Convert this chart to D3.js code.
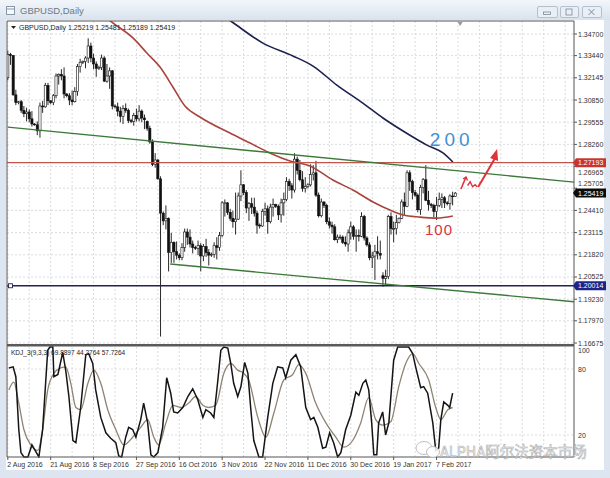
<!DOCTYPE html>
<html>
<head>
<meta charset="utf-8">
<script src="https://cdn.jsdelivr.net/npm/d3@7"></script>
<style>
  body { margin: 0; background: #dde6f0; }
  svg { display: block; font-family: "Liberation Sans", Arial, sans-serif; }
</style>
</head>
<body>
<svg id="chart" width="610" height="478"></svg>
<script>
// GBPUSD daily bars, 2 Aug 2016 .. 15 Feb 2017 (Sun-Fri sessions)
const opens = [
  1.3215,1.3350,1.3345,1.3115,1.3070,1.3075,1.3025,1.3005,1.3015,1.2975,
  1.2945,1.2940,1.2905,1.3050,1.3045,1.3170,1.3080,1.3070,1.3110,1.3225,
  1.3235,1.3225,1.3120,1.3110,1.3085,1.3075,1.3135,1.3280,1.3305,1.3310,
  1.3330,1.3400,1.3330,1.3295,1.3270,1.3275,1.3330,1.3195,1.3225,1.3255,
  1.3050,1.3045,1.3020,1.2990,1.3035,1.3025,1.2965,1.2960,1.2995,1.2975,
  1.3020,1.2980,1.2960,1.2920,1.2840,1.2710,1.2735,1.2625,1.2425,1.2380,
  1.2395,1.2195,1.2255,1.2200,1.2180,1.2165,1.2225,1.2315,1.2285,1.2245,
  1.2225,1.2220,1.2235,1.2175,1.2230,1.2195,1.2180,1.2185,1.2235,1.2225,
  1.2295,1.2485,1.2485,1.2430,1.2395,1.2375,1.2390,1.2525,1.2590,1.2545,
  1.2455,1.2480,1.2460,1.2425,1.2355,1.2350,1.2435,1.2450,1.2375,1.2460,
  1.2475,1.2465,1.2415,1.2485,1.2505,1.2610,1.2585,1.2560,1.2740,1.2675,
  1.2620,1.2570,1.2580,1.2590,1.2650,1.2660,1.2530,1.2410,1.2490,1.2470,
  1.2375,1.2355,1.2345,1.2270,1.2285,1.2285,1.2255,1.2245,1.2310,1.2345,
  1.2290,1.2295,1.2290,1.2405,1.2280,1.2240,1.2165,1.2175,1.2200,1.2190,
  1.2060,1.2045,1.2055,1.2405,1.2335,1.2335,1.2370,1.2395,1.2490,1.2465,
  1.2660,1.2610,1.2545,1.2530,1.2445,1.2575,1.2620,1.2500,1.2475,1.2470,
  1.2435,1.2470,1.2505,1.2515,1.2485,1.2480,1.2525,1.25219
];
const highs = [
  1.3372,1.3360,1.3345,1.3145,1.3080,1.3085,1.3050,1.3040,1.3030,1.3020,
  1.2950,1.2960,1.3070,1.3080,1.3185,1.3185,1.3085,1.3120,1.3240,1.3240,
  1.3265,1.3275,1.3125,1.3125,1.3140,1.3160,1.3295,1.3325,1.3315,1.3340,
  1.3445,1.3420,1.3355,1.3310,1.3285,1.3350,1.3340,1.3295,1.3275,1.3260,
  1.3060,1.3070,1.3045,1.3055,1.3065,1.3035,1.2975,1.3010,1.3035,1.3055,
  1.3030,1.3000,1.2965,1.2935,1.2855,1.2775,1.2740,1.2640,1.2435,1.2470,
  1.2400,1.2310,1.2260,1.2260,1.2190,1.2250,1.2335,1.2335,1.2330,1.2265,
  1.2235,1.2265,1.2250,1.2245,1.2275,1.2215,1.2195,1.2255,1.2285,1.2315,
  1.2495,1.2505,1.2490,1.2450,1.2440,1.2545,1.2545,1.2675,1.2595,1.2560,
  1.2490,1.2515,1.2515,1.2440,1.2365,1.2450,1.2485,1.2470,1.2480,1.2510,
  1.2480,1.2475,1.2510,1.2545,1.2635,1.2625,1.2600,1.2775,1.2755,1.2735,
  1.2670,1.2635,1.2600,1.2710,1.2705,1.2730,1.2545,1.2510,1.2495,1.2480,
  1.2400,1.2375,1.2360,1.2300,1.2300,1.2295,1.2290,1.2330,1.2375,1.2355,
  1.2330,1.2330,1.2430,1.2415,1.2290,1.2255,1.2200,1.2240,1.2290,1.2265,
  1.2080,1.2095,1.2415,1.2430,1.2375,1.2415,1.2400,1.2505,1.2545,1.2675,
  1.2675,1.2620,1.2560,1.2540,1.2590,1.2630,1.2705,1.2555,1.2485,1.2480,
  1.2520,1.2545,1.2540,1.2525,1.2495,1.2535,1.2550,1.25481
];
const lows = [
  1.3200,1.3290,1.3110,1.3055,1.3060,1.3010,1.2985,1.2960,1.2955,1.2930,
  1.2935,1.2880,1.2865,1.3010,1.3040,1.3055,1.3060,1.3055,1.3095,1.3175,
  1.3200,1.3095,1.3100,1.3055,1.3055,1.3070,1.3110,1.3245,1.3295,1.3270,
  1.3300,1.3305,1.3265,1.3220,1.3260,1.3260,1.3190,1.3185,1.3150,1.3030,
  1.3035,1.2990,1.2955,1.2945,1.3010,1.2950,1.2950,1.2935,1.2960,1.2960,
  1.2955,1.2915,1.2905,1.2830,1.2700,1.2690,1.2620,1.1705,1.2355,1.2330,
  1.2085,1.2135,1.2135,1.2155,1.2150,1.2150,1.2200,1.2240,1.2225,1.2190,
  1.2210,1.2180,1.2085,1.2145,1.2170,1.2120,1.2170,1.2165,1.2155,1.2205,
  1.2285,1.2405,1.2415,1.2380,1.2340,1.2300,1.2385,1.2495,1.2530,1.2425,
  1.2380,1.2420,1.2405,1.2305,1.2335,1.2345,1.2410,1.2305,1.2365,1.2405,
  1.2455,1.2385,1.2370,1.2410,1.2495,1.2555,1.2510,1.2545,1.2650,1.2610,
  1.2550,1.2545,1.2570,1.2580,1.2615,1.2520,1.2400,1.2400,1.2455,1.2360,
  1.2335,1.2305,1.2265,1.2250,1.2270,1.2245,1.2230,1.2200,1.2270,1.2270,
  1.2200,1.2260,1.2285,1.2265,1.2230,1.2150,1.2105,1.2035,1.2155,1.2155,
  1.1995,1.2000,1.2040,1.2300,1.2255,1.2300,1.2365,1.2390,1.2415,1.2460,
  1.2555,1.2505,1.2520,1.2430,1.2415,1.2540,1.2495,1.2440,1.2455,1.2400,
  1.2385,1.2460,1.2455,1.2455,1.2470,1.2445,1.2470,1.25189
];
const closes = [
  1.3350,1.3345,1.3115,1.3070,1.3075,1.3025,1.3005,1.3015,1.2975,1.2945,
  1.2940,1.2905,1.3050,1.3045,1.3170,1.3080,1.3070,1.3110,1.3225,1.3235,
  1.3225,1.3120,1.3110,1.3085,1.3075,1.3135,1.3280,1.3305,1.3310,1.3330,
  1.3400,1.3330,1.3295,1.3270,1.3275,1.3330,1.3195,1.3225,1.3255,1.3050,
  1.3045,1.3020,1.2990,1.3035,1.3025,1.2965,1.2960,1.2995,1.2975,1.3020,
  1.2980,1.2970,1.2920,1.2840,1.2710,1.2735,1.2625,1.2425,1.2380,1.2395,
  1.2195,1.2255,1.2200,1.2180,1.2165,1.2225,1.2315,1.2285,1.2245,1.2225,
  1.2220,1.2235,1.2175,1.2230,1.2195,1.2180,1.2185,1.2235,1.2225,1.2295,
  1.2485,1.2485,1.2430,1.2395,1.2375,1.2390,1.2525,1.2590,1.2545,1.2455,
  1.2480,1.2460,1.2425,1.2355,1.2350,1.2435,1.2450,1.2375,1.2460,1.2475,
  1.2465,1.2415,1.2485,1.2505,1.2610,1.2585,1.2560,1.2740,1.2675,1.2620,
  1.2570,1.2580,1.2590,1.2650,1.2660,1.2530,1.2410,1.2490,1.2470,1.2375,
  1.2355,1.2345,1.2270,1.2285,1.2285,1.2255,1.2245,1.2310,1.2345,1.2290,
  1.2295,1.2290,1.2405,1.2280,1.2240,1.2165,1.2175,1.2200,1.2190,1.2180,
  1.2045,1.2055,1.2405,1.2335,1.2335,1.2370,1.2395,1.2490,1.2465,1.2660,
  1.2610,1.2545,1.2530,1.2445,1.2575,1.2620,1.2500,1.2475,1.2470,1.2435,
  1.2470,1.2505,1.2515,1.2485,1.2480,1.2525,1.2522,1.25419
];

// moving averages as [bar, price]
const ma100 = [
  [34.4,1.3593],[39.3,1.3534],[46.7,1.3447],[51.9,1.3359],[56.8,1.3277],
  [61.6,1.3161],[66.1,1.3050],[71.7,1.2986],[82.9,1.2892],[90.4,1.2834],
  [97.8,1.2776],[105.3,1.2729],[112.8,1.2700],[121.3,1.2618],[128.8,1.2560],
  [136.3,1.2490],[142.6,1.2443],[147.5,1.2414],[153.8,1.2402],[160.1,1.2396],
  [166.1,1.2408]
];
const ma200 = [
  [77.3,1.3610],[83.7,1.3540],[95.2,1.3417],[106.4,1.3342],[113.9,1.3283],
  [122.8,1.3172],[132.5,1.3067],[140.0,1.2980],[147.5,1.2904],[156.4,1.2822],
  [162.4,1.2776],[166.1,1.2723]
];

// drawn objects
const upperTrend = [[0, 1.2927], [160, 1.2684]];
const lowerTrend = [[60.6, 1.2128], [160, 1.1983]];
const resistance = 1.27193;
const support = 1.20014;
const lastPrice = 1.25419;

// KDJ sub-window, [bar, value]
const kdjFast = [
  [0.4,81],[2,82],[3,73],[4.1,25],[4.9,4],[6,0],[7.5,0],[9,11],[9.7,8],[11.6,0],
  [13,25],[14.9,97],[15.7,100],[16.8,100],[17.2,73],[18.7,75],[20.5,95],[21.6,79],
  [22.8,55],[24.3,15],[25.4,13],[27.2,45],[29.1,93],[30.2,94],[31.7,85],[32.8,61],
  [34.7,36],[36.6,22],[38.4,17],[40.3,13],[41.4,1],[42.5,0],[44,18],[45.1,27],
  [46.6,25],[47.8,18],[49.6,34],[50.7,49],[52.2,31],[53.4,2],[54.5,0],[56,4],
  [57.8,27],[59.3,72],[60.8,58],[61.9,41],[63.4,40],[65.3,45],[67.2,55],[69,62],
  [70.9,52],[72.8,36],[73.9,43],[75.7,40],[76.9,36],[78.4,70],[79.5,97],[80.6,100],
  [82.1,99],[83.2,85],[84.3,67],[85.8,55],[87,64],[88.4,86],[89.6,76],[90.7,43],
  [91.8,15],[93.7,0],[95.1,0],[97,36],[98.9,67],[100.7,82],[102.6,81],[103.7,72],
  [105.6,88],[107.5,93],[109.3,82],[111.2,45],[113,34],[114.2,36],[115.7,27],
  [117.5,8],[118.7,9],[120.1,22],[121.6,13],[123.1,0],[124.3,4],[126.1,25],
  [128,38],[129.9,59],[131,56],[132.5,67],[133.6,70],[134.7,61],[135.8,31],
  [136.6,2],[137.7,2],[138.4,31],[139.9,41],[141,20],[142.2,31],[144,88],
  [145.5,100],[149.6,100],[151.1,94],[152.2,82],[154.1,63],[155.2,64],[156.7,58],
  [158.6,31],[159.7,6],[160.8,8],[161.6,34],[162.7,50],[164.2,47],[164.9,45],[166,58]
];
const kdjSlow = [
  [0.4,61],[2.2,68],[4.1,49],[6,25],[8.6,11],[11.2,6],[13,25],[14.9,61],[17.2,76],
  [19.8,81],[21.6,82],[23.5,67],[25.4,45],[27.2,43],[29.9,67],[32.1,79],[34.7,67],
  [37.3,43],[40.3,25],[43.3,11],[46.6,18],[49.6,27],[52.2,34],[54.5,18],[56.3,11],
  [59,31],[61.6,47],[64.6,45],[67.5,49],[70.1,55],[72.8,47],[75,45],[77.6,47],
  [80.6,76],[83.2,85],[85.8,79],[88.1,76],[89.9,70],[93.3,36],[96.3,18],[99.3,40],
  [103,70],[106.3,75],[108.6,84],[111.2,76],[114.9,49],[118.7,31],[122.4,18],
  [125.4,9],[128.7,15],[131.7,31],[134.7,54],[137.3,34],[139.9,29],[142.9,32],
  [145.9,64],[148.5,85],[151.1,94],[153.4,85],[157.1,70],[159.7,45],[161.6,34],
  [164.2,43],[166,45]
];

const priceTicks = ["1.34700","1.33440","1.32145","1.30850","1.29555","1.28260","1.26965",
  "1.25705","1.24410","1.23115","1.21820","1.20525","1.19230","1.17970","1.16675"];
const kdjTicks = [100, 80, 20];
const dateLabels = ["2 Aug 2016","21 Aug 2016","8 Sep 2016","27 Sep 2016","16 Oct 2016",
  "3 Nov 2016","22 Nov 2016","11 Dec 2016","30 Dec 2016","19 Jan 2017","7 Feb 2017"];

const W = 610, H = 478;
const left = 7, right = 574;
const mainTop = 21, mainBottom = 344, kdjTop = 347, kdjBottom = 457;
const barsPerLabel = 16, barsPerGrid = 8;

const svg = d3.select('#chart');
const defs = svg.append('defs');

const x = d3.scaleLinear().domain([-0.3, 211.3]).range([left, right]);
const y = d3.scaleLinear().domain([1.16675, 1.34700]).range([343, 34]);
const yk = d3.scaleLinear().domain([0, 100]).range([kdjBottom, kdjTop]);

// window frame
const tb = defs.append('linearGradient').attr('id', 'tb')
  .attr('x1', 0).attr('y1', 0).attr('x2', 0).attr('y2', 1);
tb.append('stop').attr('offset', 0).attr('stop-color', '#f2f6fa');
tb.append('stop').attr('offset', 1).attr('stop-color', '#d9e3ee');
svg.append('rect').attr('width', W).attr('height', H).attr('fill', '#dde6f0');
svg.append('rect').attr('width', W).attr('height', 20).attr('fill', 'url(#tb)');
svg.append('rect').attr('x', 6).attr('y', 20).attr('width', 598).attr('height', 450)
  .attr('fill', '#fff');

// title bar
svg.append('rect').attr('x', 6.5).attr('y', 6.5).attr('width', 8).attr('height', 8)
  .attr('fill', '#f8fafc').attr('stroke', '#8a99aa');
svg.append('line').attr('x1', 7).attr('x2', 14).attr('y1', 9).attr('y2', 9)
  .attr('stroke', '#8a99aa');
svg.append('text').attr('x', 20).attr('y', 14).attr('font-size', 9.5)
  .attr('fill', '#6d7886').text('GBPUSD,Daily');
[[537, 557], [560, 578], [582, 601]].forEach(([a, b], k) => {
  svg.append('rect').attr('x', a + 0.5).attr('y', 6.5).attr('width', b - a).attr('height', 11)
    .attr('rx', 1.5).attr('fill', '#e9eff5').attr('stroke', '#b3c0ce');
  const cx = (a + b) / 2;
  if (k === 0) {
    svg.append('rect').attr('x', cx - 3.5).attr('y', 12).attr('width', 7).attr('height', 2.5)
      .attr('fill', 'none').attr('stroke', '#7d8a98').attr('stroke-width', 0.8);
  } else if (k === 1) {
    svg.append('rect').attr('x', cx - 3).attr('y', 9).attr('width', 6).attr('height', 6)
      .attr('fill', 'none').attr('stroke', '#7d8a98').attr('stroke-width', 0.8);
  } else {
    svg.append('path').attr('d', `M${cx - 3},9 L${cx + 3},15 M${cx + 3},9 L${cx - 3},15`)
      .attr('stroke', '#7d8a98').attr('stroke-width', 1);
  }
});

// clips
defs.append('clipPath').attr('id', 'clipMain').append('rect')
  .attr('x', left).attr('y', mainTop).attr('width', right - left).attr('height', mainBottom - mainTop);
defs.append('clipPath').attr('id', 'clipKdj').append('rect')
  .attr('x', left).attr('y', kdjTop - 1).attr('width', right - left).attr('height', kdjBottom - kdjTop + 2);

// grid
const gridIdx = d3.range(0, x.domain()[1], barsPerGrid);
const grid = svg.append('g').attr('stroke', '#cfd3d6').attr('stroke-dasharray', '2,2')
  .attr('stroke-width', 0.8);
grid.selectAll('.gv').data(gridIdx).join('line')
  .attr('x1', d => x(d)).attr('x2', d => x(d)).attr('y1', mainTop).attr('y2', mainBottom);
grid.selectAll('.gk').data(gridIdx).join('line')
  .attr('x1', d => x(d)).attr('x2', d => x(d)).attr('y1', kdjTop).attr('y2', kdjBottom);
grid.selectAll('.gh').data(priceTicks).join('line')
  .attr('x1', left).attr('x2', right).attr('y1', d => y(+d)).attr('y2', d => y(+d));
grid.selectAll('.gkh').data([80, 20]).join('line')
  .attr('x1', left).attr('x2', right).attr('y1', d => yk(d)).attr('y2', d => yk(d));

// candles
const bars = closes.map((c, i) => ({ i, o: opens[i], h: highs[i], l: lows[i], c }));
const main = svg.append('g').attr('clip-path', 'url(#clipMain)');
const candle = main.append('g').selectAll('g').data(bars).join('g');
candle.append('line')
  .attr('x1', d => x(d.i)).attr('x2', d => x(d.i))
  .attr('y1', d => y(d.h)).attr('y2', d => y(d.l))
  .attr('stroke', '#111').attr('stroke-width', 0.9);
candle.append('rect')
  .attr('x', d => x(d.i) - 1.1).attr('width', 2.2)
  .attr('y', d => y(Math.max(d.o, d.c)))
  .attr('height', d => Math.max(0.7, Math.abs(y(d.o) - y(d.c))))
  .attr('fill', d => d.c >= d.o ? '#fff' : '#111')
  .attr('stroke', '#111').attr('stroke-width', 0.6);

// moving averages
const maLine = d3.line().x(d => x(d[0])).y(d => y(d[1])).curve(d3.curveMonotoneX);
main.append('path').attr('d', maLine(ma100)).attr('fill', 'none')
  .attr('stroke', '#a9443c').attr('stroke-width', 1.6);
main.append('path').attr('d', maLine(ma200)).attr('fill', 'none')
  .attr('stroke', '#1c2150').attr('stroke-width', 1.6);

// horizontal levels
main.append('line').attr('x1', left).attr('x2', right)
  .attr('y1', y(resistance)).attr('y2', y(resistance))
  .attr('stroke', '#c0574d').attr('stroke-width', 1.3);
main.append('line').attr('x1', left).attr('x2', right)
  .attr('y1', y(support)).attr('y2', y(support))
  .attr('stroke', '#23234f').attr('stroke-width', 1.5);
main.append('rect').attr('x', left + 1.5).attr('y', y(support) - 2).attr('width', 4).attr('height', 4)
  .attr('fill', '#fff').attr('stroke', '#23234f').attr('stroke-width', 0.9);

// trend lines, extended to the right edge
const xEnd = x.domain()[1];
[upperTrend, lowerTrend].forEach(t => {
  const k = (t[1][1] - t[0][1]) / (t[1][0] - t[0][0]);
  main.append('line')
    .attr('x1', x(t[0][0])).attr('y1', y(t[0][1]))
    .attr('x2', x(xEnd)).attr('y2', y(t[0][1] + k * (xEnd - t[0][0])))
    .attr('stroke', '#3d7a3a').attr('stroke-width', 1.4);
});

// KDJ lines
const kdj = svg.append('g').attr('clip-path', 'url(#clipKdj)');
const kLine = d3.line().x(d => x(d[0])).y(d => yk(d[1]));
kdj.append('path').attr('d', kLine.curve(d3.curveMonotoneX)(kdjSlow)).attr('fill', 'none')
  .attr('stroke', '#8f8473').attr('stroke-width', 1.3);
kdj.append('path').attr('d', kLine.curve(d3.curveLinear)(kdjFast)).attr('fill', 'none')
  .attr('stroke', '#141414').attr('stroke-width', 1.5);

// panel borders
const border = svg.append('g').attr('fill', 'none').attr('stroke', '#555').attr('stroke-width', 1);
border.append('line').attr('x1', left).attr('x2', right).attr('y1', mainTop).attr('y2', mainTop);
border.append('line').attr('x1', left).attr('x2', left).attr('y1', mainTop).attr('y2', kdjBottom);
border.append('line').attr('x1', right).attr('x2', right).attr('y1', mainTop).attr('y2', kdjBottom);
border.append('line').attr('x1', left).attr('x2', right).attr('y1', kdjBottom).attr('y2', kdjBottom);
svg.append('rect').attr('x', left).attr('y', mainBottom).attr('width', right - left).attr('height', 2.5)
  .attr('fill', '#5a5a5a');

// price axis (labels that sit under a price tag are pushed clear of it)
const tagged = [resistance, lastPrice, support];
const labelY = d => {
  let cy = y(+d);
  tagged.forEach(p => {
    const ty = y(p);
    if (Math.abs(cy - ty) < 9.5) cy = cy > ty ? ty + 9.5 : ty - 9.5;
  });
  return cy;
};
const axisText = svg.append('g').attr('font-size', 7).attr('fill', '#333');
axisText.selectAll('line').data(priceTicks).join('line')
  .attr('x1', right).attr('x2', right + 3).attr('y1', d => y(+d)).attr('y2', d => y(+d))
  .attr('stroke', '#555');
axisText.selectAll('text').data(priceTicks).join('text')
  .attr('x', right + 4).attr('y', d => labelY(d) + 2.5).text(d => d);

const kdjAxis = svg.append('g').attr('font-size', 7).attr('fill', '#333');
kdjAxis.selectAll('text').data(kdjTicks).join('text')
  .attr('x', right + 4).attr('y', d => d === 100 ? yk(d) + 6 : yk(d) + 2.5).text(d => d);

// price tags
[[resistance, '#c9352d'], [lastPrice, '#0b0b0b'], [support, '#1c2488']].forEach(([p, col]) => {
  const cy = y(p);
  svg.append('path')
    .attr('d', `M${right - 1},${cy} L${right + 2},${cy - 4.5} L${right + 32},${cy - 4.5} L${right + 32},${cy + 4.5} L${right + 2},${cy + 4.5} Z`)
    .attr('fill', col);
  svg.append('text').attr('x', right + 4).attr('y', cy + 2.5).attr('font-size', 7)
    .attr('fill', '#fff').text(p.toFixed(5));
});

// date axis
const dateAxis = svg.append('g').attr('font-size', 7).attr('fill', '#333');
dateAxis.selectAll('line').data(dateLabels).join('line')
  .attr('x1', (d, k) => x(k * barsPerLabel)).attr('x2', (d, k) => x(k * barsPerLabel))
  .attr('y1', kdjBottom).attr('y2', kdjBottom + 3).attr('stroke', '#555');
dateAxis.selectAll('text').data(dateLabels).join('text')
  .attr('x', (d, k) => x(k * barsPerLabel) - 0.5).attr('y', kdjBottom + 10).text(d => d);

// chart header texts
svg.append('path').attr('d', `M${left + 4},26 L${left + 9},26 L${left + 6.5},29 Z`).attr('fill', '#222');
svg.append('text').attr('x', left + 12).attr('y', 30).attr('font-size', 7).attr('fill', '#222')
  .text(`GBPUSD,Daily  ${opens[opens.length - 1].toFixed(5)} ${highs[highs.length - 1].toFixed(5)} ${lows[lows.length - 1].toFixed(5)} ${closes[closes.length - 1].toFixed(5)}`);
svg.append('text').attr('x', left + 4).attr('y', kdjTop + 8).attr('font-size', 6.5).attr('fill', '#222')
  .text('KDJ_3(9,3,3) 69.8897 44.2764 57.7264');
svg.append('path').attr('d', `M${x(168.8) - 2.5},${mainTop + 1} L${x(168.8) + 2.5},${mainTop + 1} L${x(168.8)},${mainTop + 5} Z`)
  .attr('fill', '#999');

// hand-drawn notes
const notes = svg.append('g');
notes.append('text').attr('x', x(157.5)).attr('y', y(1.2817))
  .attr('font-size', 19).attr('letter-spacing', 4).attr('fill', '#3f8fd6').text('200');
notes.append('text').attr('x', x(155.7)).attr('y', y(1.2298))
  .attr('font-size', 15).attr('letter-spacing', 1).attr('fill', '#e0323a').text('100');
const red = '#e0323a';
// small arrow and tick
const a0 = [x(169.1), y(1.2566)], a1 = [x(171), y(1.2636)];
notes.append('path').attr('d', `M${a0[0]},${a0[1]} L${a1[0]},${a1[1]}`)
  .attr('stroke', red).attr('stroke-width', 1.6).attr('fill', 'none');
notes.append('path').attr('d', `M${a1[0] - 3},${a1[1] + 2} L${a1[0]},${a1[1]} L${a1[0] + 1.5},${a1[1] + 3.5}`)
  .attr('stroke', red).attr('stroke-width', 1.4).attr('fill', 'none');
notes.append('path')
  .attr('d', `M${x(171.6)},${y(1.2585)} l2.5,-4 l2.5,5 l2.5,-2 l2,2`)
  .attr('stroke', red).attr('stroke-width', 1.4).attr('fill', 'none');
// big arrow
const b0 = [x(175.5), y(1.2578)], b1 = [x(182.6), y(1.2799)];
notes.append('path').attr('d', `M${b0[0]},${b0[1]} L${b0[0] + 6},${b0[1] - 10} L${b1[0] - 2},${b1[1] + 9}`)
  .attr('stroke', red).attr('stroke-width', 2).attr('fill', 'none');
notes.append('path').attr('d', `M${b1[0]},${b1[1]} L${b1[0] - 7},${b1[1] + 9} L${b1[0] + 1},${b1[1] + 12} Z`)
  .attr('fill', red);

// watermark
const wm = svg.append('g').attr('opacity', 0.85);
wm.append('ellipse').attr('cx', 424).attr('cy', 448).attr('rx', 8).attr('ry', 6.5)
  .attr('fill', '#fff').attr('stroke', '#b5b5b5');
wm.append('ellipse').attr('cx', 433).attr('cy', 452).attr('rx', 6.5).attr('ry', 5.5)
  .attr('fill', '#fff').attr('stroke', '#b5b5b5');
wm.append('text').attr('x', 440).attr('y', 457)
  .attr('font-family', '"Noto Sans CJK SC", sans-serif').attr('font-size', 14.5)
  .attr('fill', '#fff').attr('stroke', '#a0a0a0').attr('stroke-width', 0.6)
  .text('ALPHA阿尔法资本市场');
</script>
</body>
</html>
